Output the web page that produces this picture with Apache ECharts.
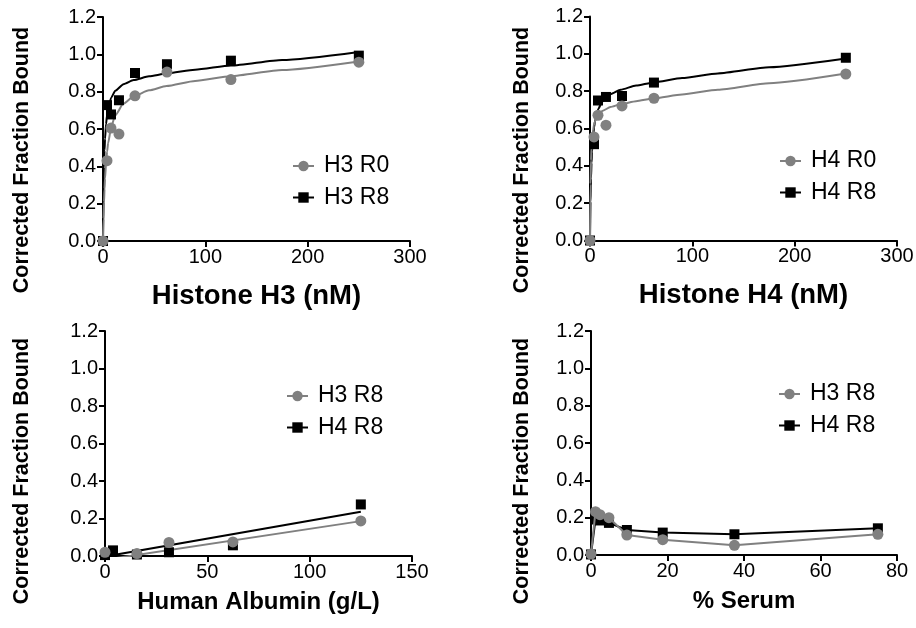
<!DOCTYPE html>
<html>
<head>
<meta charset="utf-8">
<script src="https://cdn.jsdelivr.net/npm/echarts@6/dist/echarts.min.js"></script>
<style>
  html, body { margin: 0; padding: 0; background: #ffffff; }
  #chart { width: 916px; height: 628px; }
</style>
</head>
<body>
<div id="chart"></div>
<script>
// ---- Histone H3 binding (nM) ----
const h3Conc = [0, 3.9, 7.8, 15.6, 31.25, 62.5, 125, 250];
const h3R0 = [0, 0.43, 0.605, 0.573, 0.778, 0.905, 0.865, 0.958];
const h3R8 = [0, 0.728, 0.678, 0.754, 0.9, 0.947, 0.966, 0.993];

// fitted binding curves, sampled along the concentration range
const fitConc = [0, 0.5, 1, 1.5, 2, 3, 4, 5, 8, 12, 20, 30, 45, 62, 90, 125, 175, 250];
const h3R0Fit = [0, 0.119, 0.209, 0.279, 0.335, 0.419, 0.479, 0.524, 0.611, 0.674, 0.736, 0.775, 0.807, 0.830, 0.857, 0.883, 0.916, 0.962];
const h3R8Fit = [0, 0.256, 0.397, 0.486, 0.548, 0.627, 0.677, 0.710, 0.768, 0.805, 0.840, 0.862, 0.882, 0.897, 0.918, 0.940, 0.970, 1.013];

// ---- Histone H4 binding (nM) ----
const h4Conc = [0, 3.9, 7.8, 15.6, 31.25, 62.5, 250];
const h4R0 = [0, 0.555, 0.671, 0.618, 0.721, 0.762, 0.892];
const h4R8 = [0, 0.516, 0.75, 0.769, 0.774, 0.846, 0.979];
const h4R0Fit = [0, 0.303, 0.428, 0.496, 0.539, 0.591, 0.621, 0.640, 0.673, 0.694, 0.715, 0.730, 0.746, 0.761, 0.782, 0.808, 0.843, 0.895];
const h4R8Fit = [0, 0.208, 0.333, 0.416, 0.475, 0.555, 0.606, 0.641, 0.704, 0.745, 0.784, 0.808, 0.830, 0.847, 0.870, 0.895, 0.928, 0.975];

// ---- Human albumin (g/L) ----
const albConc = [0, 3.9, 15.6, 31.25, 62.5, 125];
const albH3R8 = [0.02, null, 0.013, 0.072, 0.075, 0.187];
const albH4R8 = [0.005, 0.03, 0.008, 0.02, 0.057, 0.275];
const albFitConc = [0, 125];
const albH3R8Fit = [-0.02, 0.186];
const albH4R8Fit = [-0.003, 0.236];

// ---- % Serum ----
const serumConc = [0, 1.17, 2.34, 4.69, 9.38, 18.75, 37.5, 75];
const serumH3R8 = [0.005, 0.232, 0.216, 0.2, 0.107, 0.082, 0.052, 0.111];
const serumH4R8 = [0.003, 0.19, 0.185, 0.172, 0.134, 0.12, 0.111, 0.143];

// ---- axis ticks ----
const yMax = 1.2, yStep = 0.2;
const histoneMax = 300, histoneStep = 100;
const albMax = 150, albStep = 50;
const serumMax = 80, serumStep = 20;

const FONT = '"Liberation Sans", Arial, Helvetica, sans-serif';
const GRAY = '#808080';
const BLACK = '#000000';

const pairs = (xs, ys) => xs.map((x, i) => [x, ys[i]]).filter(p => p[1] !== null);

const grids = [
  { left: 103, top: 17, width: 307, height: 224 },
  { left: 590, top: 16.5, width: 307, height: 224 },
  { left: 105, top: 331, width: 307, height: 225 },
  { left: 591, top: 331, width: 306, height: 224 }
].map(g => Object.assign({ outerBoundsMode: 'none', containLabel: false }, g));

const axisLine = { show: true, onZero: false, lineStyle: { color: '#000', width: 2 } };
const axisTick = { show: true, inside: false, length: 6, lineStyle: { color: '#000', width: 2 } };

function xAxisFor(i, max, step, name, titleSize, titleGap) {
  return {
    gridIndex: i, type: 'value', min: 0, max: max, interval: step,
    name: name, nameLocation: 'middle', nameGap: titleGap,
    nameTextStyle: { fontFamily: FONT, fontSize: titleSize, fontWeight: 'bold', color: '#000' },
    axisLine: axisLine, axisTick: axisTick,
    axisLabel: { fontFamily: FONT, fontSize: 20, color: '#000', margin: 6 },
    splitLine: { show: false }
  };
}
function yAxisFor(i) {
  return {
    gridIndex: i, type: 'value', min: 0, max: yMax, interval: yStep,
    axisLine: axisLine, axisTick: axisTick,
    axisLabel: { fontFamily: FONT, fontSize: 20, color: '#000', margin: 7,
                 formatter: v => v.toFixed(1) },
    splitLine: { show: false }
  };
}

// fitted curve (also carries the legend entry) + separate markers
function fitSeries(name, i, xs, ys, color, symbol, smooth) {
  return {
    name: name, type: 'line', xAxisIndex: i, yAxisIndex: i,
    data: pairs(xs, ys), showSymbol: false, symbol: symbol,
    smooth: smooth, smoothMonotone: 'x',
    itemStyle: { color: color },
    lineStyle: { color: color, width: 2 },
    z: color === BLACK ? 2 : 3, silent: true
  };
}
function pointSeries(name, i, xs, ys, color, symbol) {
  return {
    name: name, type: 'scatter', xAxisIndex: i, yAxisIndex: i,
    data: pairs(xs, ys), symbol: symbol, symbolSize: symbol === 'rect' ? 10 : 11,
    itemStyle: { color: color, opacity: 1 },
    z: color === BLACK ? 4 : 5, silent: true
  };
}
function connectedSeries(name, i, xs, ys, color, symbol) {
  return {
    name: name, type: 'line', xAxisIndex: i, yAxisIndex: i,
    data: pairs(xs, ys), showSymbol: true, symbol: symbol,
    symbolSize: symbol === 'rect' ? 10 : 11,
    itemStyle: { color: color, opacity: 1 },
    lineStyle: { color: color, width: 2 },
    z: color === BLACK ? 4 : 5, silent: true
  };
}

const series = [
  fitSeries('H3 R0|a', 0, fitConc, h3R0Fit, GRAY, 'circle', 0.2),
  fitSeries('H3 R8|a', 0, fitConc, h3R8Fit, BLACK, 'rect', 0.2),
  pointSeries('H3 R8 pts|a', 0, h3Conc, h3R8, BLACK, 'rect'),
  pointSeries('H3 R0 pts|a', 0, h3Conc, h3R0, GRAY, 'circle'),

  fitSeries('H4 R0|b', 1, fitConc, h4R0Fit, GRAY, 'circle', 0.2),
  fitSeries('H4 R8|b', 1, fitConc, h4R8Fit, BLACK, 'rect', 0.2),
  pointSeries('H4 R8 pts|b', 1, h4Conc, h4R8, BLACK, 'rect'),
  pointSeries('H4 R0 pts|b', 1, h4Conc, h4R0, GRAY, 'circle'),

  fitSeries('H3 R8|c', 2, albFitConc, albH3R8Fit, GRAY, 'circle', false),
  fitSeries('H4 R8|c', 2, albFitConc, albH4R8Fit, BLACK, 'rect', false),
  pointSeries('H4 R8 pts|c', 2, albConc, albH4R8, BLACK, 'rect'),
  pointSeries('H3 R8 pts|c', 2, albConc, albH3R8, GRAY, 'circle'),

  connectedSeries('H4 R8|d', 3, serumConc, serumH4R8, BLACK, 'rect'),
  connectedSeries('H3 R8|d', 3, serumConc, serumH3R8, GRAY, 'circle')
];

function legendAt(left, top, names) {
  return {
    orient: 'vertical', left: left, top: top,
    itemWidth: 21, itemHeight: 13, itemGap: 7.5,
    selectedMode: false, padding: 0,
    textStyle: { fontFamily: FONT, fontSize: 23, color: '#000', lineHeight: 24, padding: [0, 0, 0, 5] },
    formatter: n => n.split('|')[0],
    data: names
  };
}

const yTitle = (x, y) => ({
  type: 'text', x: x, y: y, rotation: Math.PI / 2, silent: true,
  style: {
    text: 'Corrected Fraction Bound', fontFamily: FONT, fontSize: 21.5, fontWeight: 'bold',
    fill: '#000', align: 'center', verticalAlign: 'middle'
  }
});

const chart = echarts.init(document.getElementById('chart'), null, { renderer: 'canvas' });
chart.setOption({
  backgroundColor: '#ffffff',
  animation: false,
  grid: grids,
  xAxis: [
    xAxisFor(0, histoneMax, histoneStep, 'Histone H3 (nM)', 27.5, 41),
    xAxisFor(1, histoneMax, histoneStep, 'Histone H4 (nM)', 27.5, 41),
    xAxisFor(2, albMax, albStep, 'Human Albumin (g/L)', 24, 34),
    xAxisFor(3, serumMax, serumStep, '% Serum', 24, 34)
  ],
  yAxis: [yAxisFor(0), yAxisFor(1), yAxisFor(2), yAxisFor(3)],
  legend: [
    legendAt(292, 154, ['H3 R0|a', 'H3 R8|a']),
    legendAt(779, 149, ['H4 R0|b', 'H4 R8|b']),
    legendAt(286, 384, ['H3 R8|c', 'H4 R8|c']),
    legendAt(778, 382, ['H3 R8|d', 'H4 R8|d'])
  ],
  graphic: [yTitle(22, 160), yTitle(522, 160), yTitle(22, 471), yTitle(522, 471)],
  series: series
});
</script>
</body>
</html>
